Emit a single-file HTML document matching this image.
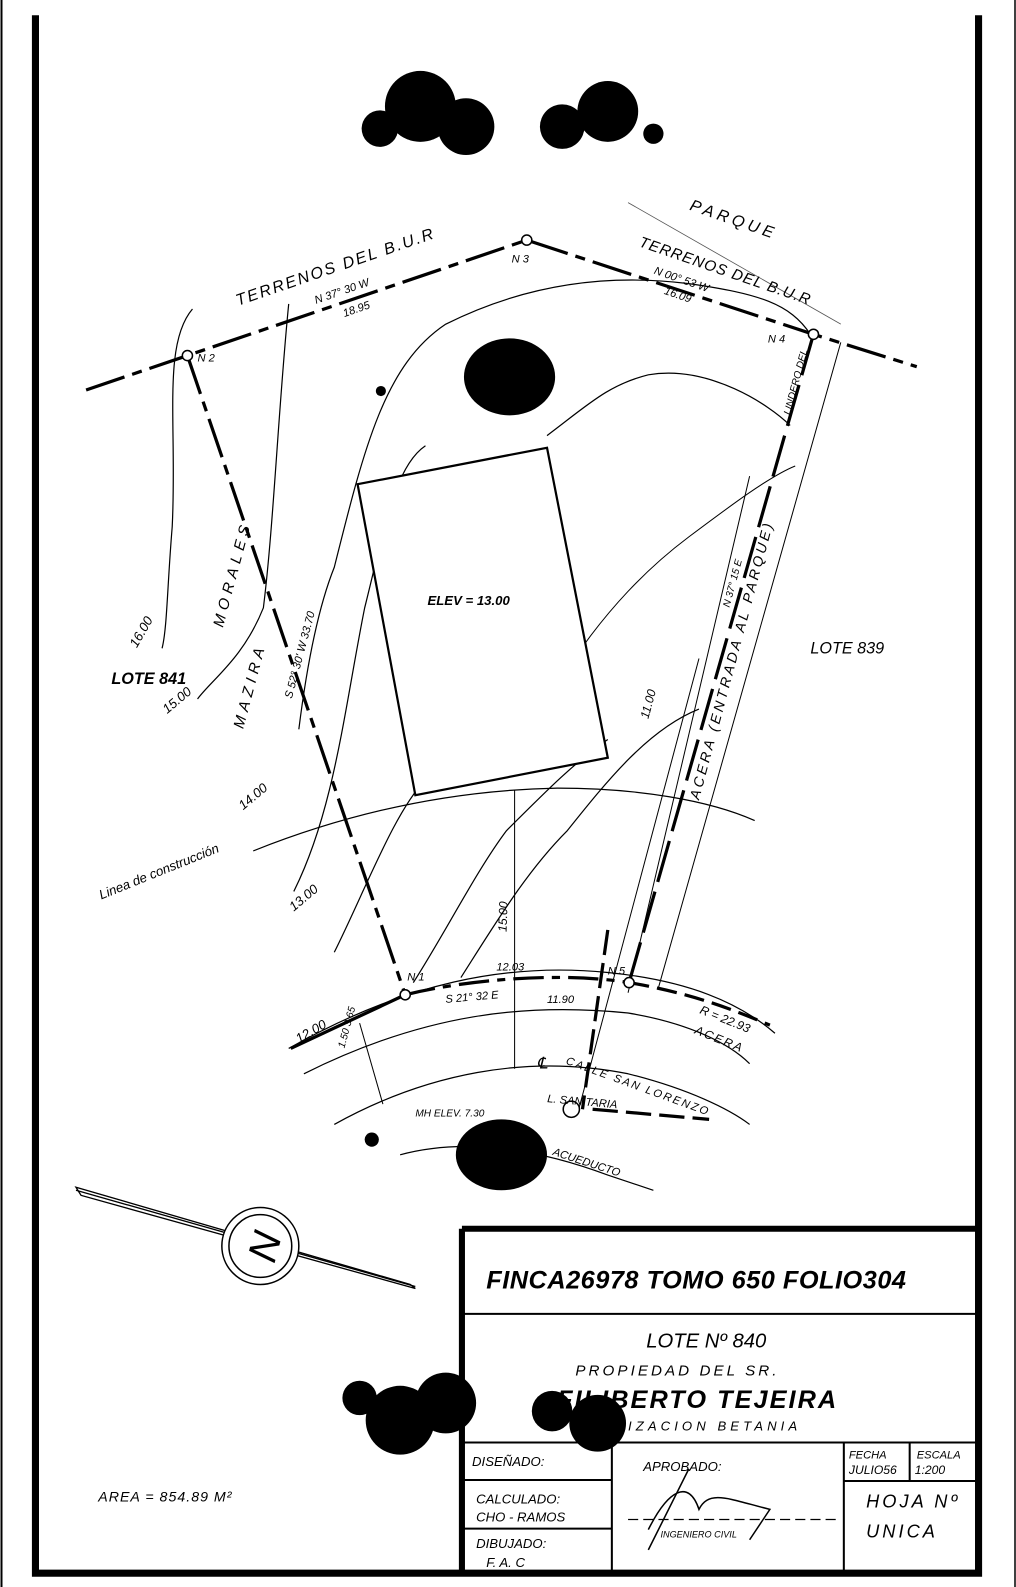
<!DOCTYPE html>
<html><head><meta charset="utf-8"><style>
html,body{margin:0;padding:0;background:#fff;}
svg{display:block}
text{font-family:"Liberation Sans",sans-serif;font-style:italic;fill:#000}
</style></head><body>
<svg width="1016" height="1587" viewBox="0 0 1016 1587" xmlns="http://www.w3.org/2000/svg">
<rect width="1016" height="1587" fill="#fff"/>
<line x1="1.5" y1="0" x2="1.5" y2="1587" stroke="#000" stroke-width="2"/>
<line x1="1015" y1="0" x2="1015" y2="1587" stroke="#000" stroke-width="1.5"/>
<g transform="scale(1.013)">
<!-- border -->
<path d="M35,15 V1553 H966 V15" fill="none" stroke="#000" stroke-width="7"/>
<!-- blobs -->
<g fill="#000">
<circle cx="415" cy="105" r="35"/><circle cx="460" cy="125" r="28"/><circle cx="375" cy="127" r="18"/>
<circle cx="600" cy="110" r="30"/><circle cx="555" cy="125" r="22"/><circle cx="645" cy="132" r="10"/>
<ellipse cx="503" cy="372" rx="45" ry="38"/>
<ellipse cx="495" cy="1140" rx="45" ry="35"/>
<circle cx="355" cy="1380" r="17"/><circle cx="395" cy="1402" r="34"/><circle cx="440" cy="1385" r="30"/>
<circle cx="545" cy="1393" r="20"/><circle cx="590" cy="1405" r="28"/>
<circle cx="376" cy="386" r="5"/><circle cx="367" cy="1125" r="7"/>
</g>
<!-- contours / thin lines -->
<g fill="none" stroke="#000" stroke-width="1.2">
<path d="M190,305 C160,340 175,420 170,520 C165,580 165,620 160,640"/>
<path d="M285,300 C275,400 270,520 260,600 C240,650 210,670 195,690"/>
<path d="M295,720 C300,680 310,610 330,560 C360,440 380,360 440,320 C520,280 600,270 680,280 C750,290 780,300 800,330"/>
<path d="M290,880 C330,800 340,700 360,600 C380,520 390,460 420,440"/>
<path d="M330,940 C360,880 390,800 420,770"/>
<path d="M408,970 C440,920 470,860 500,820 C540,780 570,750 600,730"/>
<path d="M540,430 C580,400 600,380 640,370 C700,360 760,400 780,420"/>
<path d="M455,965 C490,910 520,860 560,820 C600,770 640,720 690,700"/>
<path d="M560,660 C600,600 640,560 680,530 C720,500 760,470 785,460" stroke-width="1"/>
<path d="M250,840 C350,800 450,780 550,778 C630,778 700,790 745,810"/>
<path d="M285,1035 C400,970 500,950 600,960 C680,968 730,990 765,1020"/>
<path d="M300,1060 C420,1000 520,990 620,1000 C680,1010 720,1030 740,1050"/>
<path d="M330,1110 C420,1060 520,1040 620,1060 C680,1075 720,1095 740,1110"/>
<path d="M395,1140 C450,1125 520,1130 600,1160 L645,1175"/>
<path d="M620,980 L740,470 M650,975 L830,338" stroke-width="1"/>
<path d="M570,1100 L690,650" stroke-width="1"/>
<path d="M620,200 L830,320" stroke-width="0.8" stroke="#555"/>
<line x1="508" y1="780" x2="508" y2="1055" stroke-width="1"/>
<line x1="355" y1="1010" x2="378" y2="1090" stroke-width="1"/>
</g>
<!-- boundary -->
<g fill="none" stroke="#000" stroke-width="3.2">
<path d="M85,385 L185,351 L520,237 L803,330 L905,362" stroke-dasharray="40,8,10,8"/>
<path d="M185,351 L400,982" stroke-dasharray="40,8,10,8"/>
<path d="M803,330 L621,970" stroke-dasharray="42,10"/>
<path d="M400,982 C470,965 560,960 621,970" stroke-dasharray="30,8,8,8"/>
<path d="M621,970 C680,980 720,995 760,1012" stroke-dasharray="20,8"/>
<path d="M287,1035 L400,982" />
<path d="M600,918 L575,1095" stroke-dasharray="25,8"/>
<path d="M585,1095 L700,1105" stroke-dasharray="25,8"/>
</g>
<g fill="#fff" stroke="#000" stroke-width="1.5">
<circle cx="185" cy="351" r="5"/><circle cx="520" cy="237" r="5"/><circle cx="803" cy="330" r="5"/>
<circle cx="400" cy="982" r="5"/><circle cx="621" cy="970" r="5"/><circle cx="564" cy="1095" r="8"/>
</g>
<!-- building -->
<polygon points="353,478 540,442 600,748 410,785" fill="#fff" stroke="#000" stroke-width="2.2"/>
<text x="422" y="597" font-size="13" font-weight="bold">ELEV = 13.00</text>
<!-- labels -->
<g font-size="14">
<text x="235" y="302" transform="rotate(-19 235 302)" font-size="16" letter-spacing="2">TERRENOS DEL B.U.R</text>
<text x="312" y="300" transform="rotate(-19 312 300)" font-size="11">N 37° 30 W</text>
<text x="340" y="313" transform="rotate(-19 340 313)" font-size="11">18.95</text>
<text x="680" y="207" transform="rotate(19 680 207)" font-size="16" letter-spacing="4">PARQUE</text>
<text x="630" y="243" transform="rotate(19 630 243)" font-size="15" letter-spacing="1">TERRENOS DEL B.U.R</text>
<text x="645" y="270" transform="rotate(19 645 270)" font-size="11">N 00° 53 W</text>
<text x="655" y="290" transform="rotate(19 655 290)" font-size="11">16.09</text>
<text x="195" y="357" font-size="11">N 2</text>
<text x="505" y="259" font-size="11">N 3</text>
<text x="758" y="338" font-size="11">N 4</text>
<text x="402" y="968" font-size="11">N 1</text>
<text x="600" y="962" font-size="11">N 5</text>
<text x="110" y="675" font-weight="bold" font-size="16">LOTE 841</text>
<text x="800" y="645" font-size="16">LOTE 839</text>
<text x="220" y="620" transform="rotate(-75 220 620)" font-size="15" letter-spacing="5">MORALES</text>
<text x="240" y="720" transform="rotate(-75 240 720)" font-size="15" letter-spacing="5">MAZIRA</text>
<text x="288" y="690" transform="rotate(-75 288 690)" font-size="11">S 52° 30' W  33.70</text>
<text x="135" y="640" transform="rotate(-60 135 640)" font-size="13">16.00</text>
<text x="165" y="705" transform="rotate(-40 165 705)" font-size="13">15.00</text>
<text x="240" y="800" transform="rotate(-40 240 800)" font-size="13">14.00</text>
<text x="290" y="900" transform="rotate(-40 290 900)" font-size="13">13.00</text>
<text x="295" y="1030" transform="rotate(-30 295 1030)" font-size="13">12.00</text>
<text x="100" y="888" transform="rotate(-22 100 888)" font-size="13">Linea de construcción</text>
<text x="500" y="920" transform="rotate(-88 500 920)" font-size="12">15.00</text>
<text x="640" y="710" transform="rotate(-75 640 710)" font-size="12">11.00</text>
<text x="690" y="790" transform="rotate(-75 690 790)" font-size="14" letter-spacing="3">ACERA (ENTRADA AL PARQUE)</text>
<text x="720" y="600" transform="rotate(-75 720 600)" font-size="10">N 37° 15 E</text>
<text x="780" y="410" transform="rotate(-75 780 410)" font-size="10">LINDERO DEL</text>
<text x="490" y="958" font-size="11">12.03</text>
<text x="440" y="990" font-size="11" transform="rotate(-5 440 990)">S 21° 32 E</text>
<text x="540" y="990" font-size="11">11.90</text>
<text x="690" y="1000" transform="rotate(22 690 1000)" font-size="12">R = 22.93</text>
<text x="685" y="1020" transform="rotate(22 685 1020)" font-size="12" letter-spacing="2">ACERA</text>
<text x="530" y="1055" font-size="16">℄</text>
<text x="558" y="1050" transform="rotate(20 558 1050)" font-size="11" letter-spacing="2">CALLE SAN LORENZO</text>
<text x="540" y="1088" transform="rotate(5 540 1088)" font-size="11">L. SANITARIA</text>
<text x="410" y="1102" font-size="10">MH ELEV. 7.30</text>
<text x="545" y="1140" transform="rotate(18 545 1140)" font-size="11">ACUEDUCTO</text>
<text x="340" y="1035" transform="rotate(-75 340 1035)" font-size="10">1.50 3.65</text>
<text x="97" y="1482" font-size="14" letter-spacing="1">AREA = 854.89 M²</text>
</g>
<!-- north arrow -->
<polygon points="75,1172 80,1180 410,1272 405,1268" fill="none" stroke="#000" stroke-width="1.3"/>
<line x1="75" y1="1175" x2="410" y2="1270" stroke="#000" stroke-width="1.3"/>
<circle cx="257" cy="1230" r="38" fill="#fff" stroke="#000" stroke-width="1.5"/>
<circle cx="257" cy="1230" r="31" fill="none" stroke="#000" stroke-width="1.5"/>
<text x="243" y="1248" font-size="40" font-style="normal" transform="rotate(-75 257 1230)">N</text>
<!-- title block -->
<g fill="none" stroke="#000">
<path d="M456,1213 H966" stroke-width="6"/>
<path d="M456,1213 V1553" stroke-width="6"/>
<path d="M456,1297 H966 M456,1424 H966" stroke-width="2"/>
<path d="M604,1424 V1553 M833,1424 V1553 M456,1461 H604 M456,1509 H604 M833,1462 H966 M898,1424 V1462" stroke-width="2"/>
<path d="M620,1500 H830" stroke-width="1.2" stroke-dasharray="10,5"/>
<path d="M640,1510 C660,1470 680,1460 690,1490 C700,1470 720,1480 760,1490 L740,1520 M680,1450 L640,1530" stroke-width="1.5"/>
</g>
<text x="480" y="1272" font-size="25" font-weight="bold" letter-spacing="0.5">FINCA26978 TOMO 650 FOLIO304</text>
<text x="638" y="1330" font-size="20" font-style="normal">LOTE Nº 840</text>
<text x="568" y="1358" font-size="15" letter-spacing="3">PROPIEDAD DEL SR.</text>
<text x="550" y="1390" font-size="25" font-weight="bold" letter-spacing="2">FILIBERTO TEJEIRA</text>
<text x="620" y="1412" font-size="13" letter-spacing="4">IZACION   BETANIA</text>
<text x="466" y="1447" font-size="13">DISEÑADO:</text>
<text x="470" y="1484" font-size="13">CALCULADO:</text>
<text x="470" y="1502" font-size="13">CHO - RAMOS</text>
<text x="470" y="1528" font-size="13">DIBUJADO:</text>
<text x="480" y="1547" font-size="13">F. A. C</text>
<text x="635" y="1452" font-size="13">APROBADO:</text>
<text x="652" y="1518" font-size="9">INGENIERO CIVIL</text>
<text x="838" y="1440" font-size="11">FECHA</text>
<text x="905" y="1440" font-size="11">ESCALA</text>
<text x="838" y="1455" font-size="12" font-style="normal">JULIO56</text>
<text x="903" y="1455" font-size="12">1:200</text>
<text x="855" y="1488" font-size="18" font-style="normal" letter-spacing="3">HOJA Nº</text>
<text x="855" y="1518" font-size="18" font-style="normal" letter-spacing="3">UNICA</text>
</g>
</svg>
</body></html>
